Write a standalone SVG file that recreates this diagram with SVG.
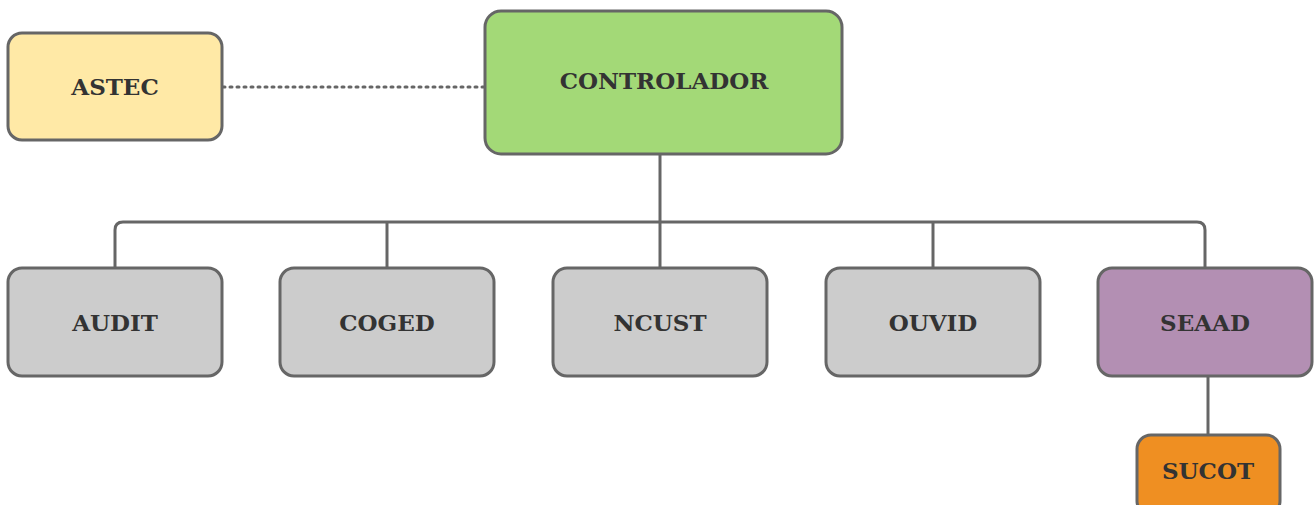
<svg xmlns="http://www.w3.org/2000/svg" width="1315" height="505" viewBox="0 0 1315 505">
<style>
.box{stroke:#666;stroke-width:3}
.lbl{font-family:"DejaVu Serif","Liberation Serif",serif;font-weight:bold;font-size:23px;fill:#333;text-anchor:middle}
.con{fill:none;stroke:#666;stroke-width:3}
</style>
<rect width="1315" height="505" fill="#fff"/>
<g id="connectors">
<path class="con" d="M223 87 H484" stroke-dasharray="2 5" stroke-linecap="round"/>
<path class="con" d="M660 155 V268"/>
<path class="con" d="M115 268 V230 Q115 222 123 222 H1197 Q1205 222 1205 230 V268"/>
<path class="con" d="M387 222 V268"/>
<path class="con" d="M933 222 V268"/>
<path class="con" d="M1208 377 V435"/>
</g>
<g id="ASTEC"><rect class="box" x="8" y="33" width="214" height="107" rx="14" fill="#ffe9a6"/><text class="lbl" x="115" y="95">ASTEC</text></g>
<g id="CONTROLADOR"><rect class="box" x="485" y="11" width="357" height="143" rx="16" fill="#a3d977"/><text class="lbl" x="664" y="89">CONTROLADOR</text></g>
<g id="AUDIT"><rect class="box" x="8" y="268" width="214" height="108" rx="14" fill="#cccccc"/><text class="lbl" x="115" y="331">AUDIT</text></g>
<g id="COGED"><rect class="box" x="280" y="268" width="214" height="108" rx="14" fill="#cccccc"/><text class="lbl" x="387" y="331">COGED</text></g>
<g id="NCUST"><rect class="box" x="553" y="268" width="214" height="108" rx="14" fill="#cccccc"/><text class="lbl" x="660" y="331">NCUST</text></g>
<g id="OUVID"><rect class="box" x="826" y="268" width="214" height="108" rx="14" fill="#cccccc"/><text class="lbl" x="933" y="331">OUVID</text></g>
<g id="SEAAD"><rect class="box" x="1098" y="268" width="214" height="108" rx="14" fill="#b38fb3"/><text class="lbl" x="1205" y="331">SEAAD</text></g>
<g id="SUCOT"><rect class="box" x="1137" y="435" width="143" height="80" rx="14" fill="#ef8f22"/><text class="lbl" x="1208" y="479">SUCOT</text></g>
</svg>
